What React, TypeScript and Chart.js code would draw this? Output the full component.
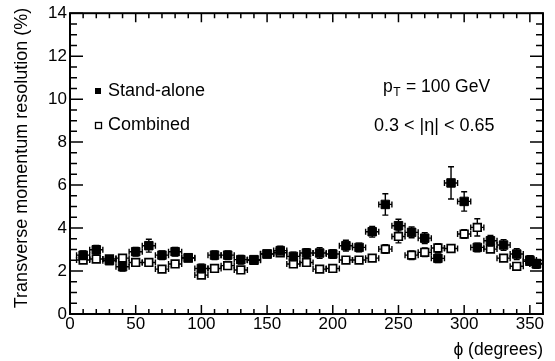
import React, { useEffect, useRef } from 'react';
import { Chart, registerables } from 'chart.js';

Chart.register(...registerables);

// ---- data ----
const phi = [10, 20, 30, 40, 50, 60, 70, 80, 90, 100, 110, 120, 130, 140, 150, 160, 170, 180, 190, 200, 210, 220, 230, 240, 250, 260, 270, 280, 290, 300, 310, 320, 330, 340, 350, 355];
const standAlone = [2.74, 2.99, 2.48, 2.2, 2.9, 3.18, 2.74, 2.9, 2.62, 2.12, 2.74, 2.74, 2.53, 2.53, 2.79, 2.95, 2.68, 2.84, 2.84, 2.79, 3.18, 3.1, 3.83, 5.1, 4.11, 3.8, 3.53, 2.59, 6.1, 5.24, 3.1, 3.41, 3.21, 2.79, 2.51, 2.33];
const standAloneErr = [0.2, 0.2, 0.15, 0.2, 0.2, 0.3, 0.2, 0.2, 0.15, 0.2, 0.2, 0.2, 0.2, 0.15, 0.15, 0.2, 0.2, 0.2, 0.25, 0.2, 0.25, 0.2, 0.25, 0.5, 0.3, 0.25, 0.25, 0.2, 0.75, 0.45, 0.2, 0.25, 0.25, 0.25, 0.2, 0.2];
const combined = [2.51, 2.56, 2.56, 2.6, 2.4, 2.4, 2.09, 2.33, 2.6, 1.81, 2.12, 2.25, 2.05, 2.5, 2.8, 2.85, 2.33, 2.4, 2.09, 2.12, 2.51, 2.51, 2.6, 3.02, 3.61, 2.74, 2.87, 3.07, 3.05, 3.72, 4.03, 3.02, 2.6, 2.22, 2.45, 2.35];
const combinedErr = [0.15, 0.15, 0.15, 0.15, 0.15, 0.15, 0.15, 0.15, 0.15, 0.15, 0.15, 0.15, 0.15, 0.15, 0.15, 0.15, 0.15, 0.15, 0.15, 0.15, 0.15, 0.15, 0.15, 0.2, 0.3, 0.2, 0.2, 0.2, 0.15, 0.2, 0.4, 0.15, 0.15, 0.15, 0.15, 0.15];
const PHI_HALF_BIN = 5;

const xTickLabels = [0, 50, 100, 150, 200, 250, 300, 350];
const yTickLabels = [0, 2, 4, 6, 8, 10, 12, 14];

const FONT = "'Liberation Sans', Arial, Helvetica, sans-serif";

const errorBarPlugin = {
  id: 'errorBars',
  beforeDatasetDraw(chart: any, args: any) {
    const ds: any = chart.data.datasets[args.index];
    const xs = chart.scales.x;
    const ys = chart.scales.y;
    const ctx = chart.ctx;
    ctx.save();
    ctx.strokeStyle = '#000';
    ctx.lineWidth = 1.4;
    const cap = 3;
    ds.data.forEach((p: any, i: number) => {
      const e = ds.errY[i];
      const cx = xs.getPixelForValue(p.x);
      const cy = ys.getPixelForValue(p.y);
      const yTop = ys.getPixelForValue(p.y + e);
      const yBot = ys.getPixelForValue(p.y - e);
      const xL = xs.getPixelForValue(p.x - PHI_HALF_BIN);
      const xR = xs.getPixelForValue(p.x + PHI_HALF_BIN);
      ctx.beginPath();
      ctx.moveTo(cx, yTop); ctx.lineTo(cx, yBot);
      ctx.moveTo(cx - cap, yTop); ctx.lineTo(cx + cap, yTop);
      ctx.moveTo(cx - cap, yBot); ctx.lineTo(cx + cap, yBot);
      ctx.moveTo(xL, cy); ctx.lineTo(xR, cy);
      ctx.moveTo(xL, cy - cap); ctx.lineTo(xL, cy + cap);
      ctx.moveTo(xR, cy - cap); ctx.lineTo(xR, cy + cap);
      ctx.stroke();
    });
    ctx.restore();
  },
};

const framePlugin = {
  id: 'rootFrame',
  afterDraw(chart: any) {
    const { ctx, chartArea } = chart;
    const { left, right, top, bottom } = chartArea;
    const xs = chart.scales.x;
    const ys = chart.scales.y;
    ctx.save();
    ctx.strokeStyle = '#000';
    // ticks
    ctx.lineWidth = 1.5;
    ctx.beginPath();
    for (let v = 0; v <= 360; v += 10) {
      const px = xs.getPixelForValue(v);
      const len = v % 50 === 0 ? 9 : 5;
      ctx.moveTo(px, bottom); ctx.lineTo(px, bottom - len);
      ctx.moveTo(px, top); ctx.lineTo(px, top + len);
    }
    for (let v = 0; v <= 14; v += 0.5) {
      const py = ys.getPixelForValue(v);
      const len = v % 2 === 0 ? 13 : 7;
      ctx.moveTo(left, py); ctx.lineTo(left + len, py);
      ctx.moveTo(right, py); ctx.lineTo(right - len, py);
    }
    ctx.stroke();
    // frame
    ctx.lineWidth = 2;
    ctx.strokeRect(left, top, right - left, bottom - top);

    ctx.fillStyle = '#000';
    // y title
    ctx.save();
    ctx.translate(22, 158);
    ctx.rotate(-Math.PI / 2);
    ctx.font = `18px ${FONT}`;
    ctx.textAlign = 'center';
    ctx.textBaseline = 'middle';
    ctx.fillText('Transverse momentum resolution (%)', 0, 0);
    ctx.restore();

    // x title
    ctx.font = `17.5px ${FONT}`;
    ctx.textAlign = 'right';
    ctx.textBaseline = 'middle';
    ctx.fillText('\u03D5 (degrees)', right, 350);

    // legend
    ctx.font = `18px ${FONT}`;
    ctx.textAlign = 'left';
    ctx.fillRect(95, 88, 6, 6);
    ctx.fillText('Stand-alone', 108, 91);
    ctx.lineWidth = 1.3;
    ctx.strokeRect(95.5, 122.5, 6, 6);
    ctx.fillText('Combined', 108, 125);

    // annotations
    ctx.font = `17.5px ${FONT}`;
    ctx.fillText('p', 383, 87);
    const pw = ctx.measureText('p').width;
    ctx.font = `12px ${FONT}`;
    ctx.fillText('T', 383 + pw + 0.5, 93);
    const tw = ctx.measureText('T').width;
    ctx.font = `17.5px ${FONT}`;
    ctx.fillText(' = 100 GeV', 383 + pw + tw + 1, 87);
    ctx.font = `18px ${FONT}`;
    ctx.fillText('0.3 < |\u03B7| < 0.65', 374, 126);
    ctx.restore();
  },
};

export default function App() {
  const ref = useRef<HTMLCanvasElement | null>(null);
  useEffect(() => {
    if (!ref.current) return;
    const chart = new Chart(ref.current, {
      type: 'scatter',
      data: {
        datasets: [
          {
            label: 'Stand-alone',
            data: phi.map((x, i) => ({ x, y: standAlone[i] })),
            errY: standAloneErr,
            pointStyle: 'rect',
            pointRadius: 6,
            pointHoverRadius: 6,
            backgroundColor: '#000',
            borderColor: '#000',
            borderWidth: 1,
          } as any,
          {
            label: 'Combined',
            data: phi.map((x, i) => ({ x, y: combined[i] })),
            errY: combinedErr,
            pointStyle: 'rect',
            pointRadius: 5.4,
            pointHoverRadius: 5.4,
            backgroundColor: '#fff',
            borderColor: '#000',
            borderWidth: 1.7,
          } as any,
        ],
      },
      options: {
        animation: false,
        responsive: false,
        devicePixelRatio: 1,
        events: [],
        layout: { padding: { top: 12, right: 12, left: 0, bottom: 0 } },
        plugins: { legend: { display: false }, tooltip: { enabled: false } },
        scales: {
          x: {
            type: 'linear',
            min: 0,
            max: 360,
            afterFit: (s: any) => { s.height = 47; },
            afterBuildTicks: (s: any) => { s.ticks = xTickLabels.map((v) => ({ value: v })); },
            grid: { display: false, drawTicks: false },
            border: { display: false },
            ticks: {
              autoSkip: false,
              maxRotation: 0,
              padding: 0,
              color: '#000',
              font: { family: FONT, size: 17 },
              callback: (v: any) => String(v),
            },
          },
          y: {
            type: 'linear',
            min: 0,
            max: 14,
            afterFit: (s: any) => { s.width = 70; },
            afterBuildTicks: (s: any) => { s.ticks = yTickLabels.map((v) => ({ value: v })); },
            grid: { display: false, drawTicks: false },
            border: { display: false },
            ticks: {
              autoSkip: false,
              padding: 3,
              color: '#000',
              font: { family: FONT, size: 17 },
              callback: (v: any) => String(v),
            },
          },
        },
      } as any,
      plugins: [errorBarPlugin, framePlugin],
    });
    return () => chart.destroy();
  }, []);
  return (
    <div style={{ position: 'absolute', left: 0, top: 0, width: 555, height: 361, background: '#fff' }}>
      <canvas ref={ref} width={555} height={361} style={{ display: 'block' }} />
    </div>
  );
}
